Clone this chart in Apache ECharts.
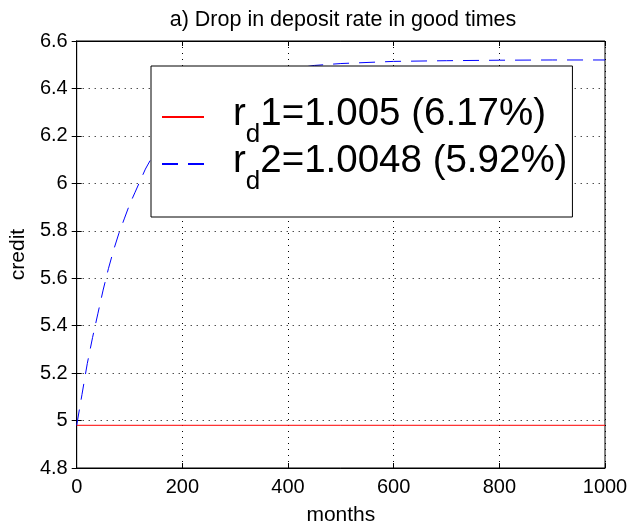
<!DOCTYPE html>
<html><head><meta charset="utf-8">
<script src="https://cdn.jsdelivr.net/npm/echarts@6/dist/echarts.min.js"></script>
<style>html,body{margin:0;padding:0;background:#fff}#c{width:632px;height:531px}</style>
</head><body><div id="c"></div>
<script>
const titleText = 'a) Drop in deposit rate in good times';
const xName = 'months';
const yName = 'credit';
const seriesNames = ['rd1=1.005 (6.17%)', 'rd2=1.0048 (5.92%)'];
const legendMain = ['1=1.005 (6.17%)', '2=1.0048 (5.92%)'];

const months1 = [0, 1000];
const credit1 = [4.98, 4.98];

const months2 = [0, 10, 20, 30, 40, 50, 60, 70, 80, 90, 100, 110, 120, 130, 140, 150, 175, 200, 250, 300, 350, 400, 450, 500, 600, 700, 800, 900, 1000];
const credit2 = [4.98, 5.11, 5.24, 5.35, 5.45, 5.55, 5.64, 5.72, 5.79, 5.85, 5.91, 5.96, 6.01, 6.06, 6.10, 6.14, 6.21, 6.28, 6.37, 6.43, 6.46, 6.48, 6.497, 6.505, 6.514, 6.517, 6.519, 6.52, 6.52];

const xMin = 0, xMax = 1000, xStep = 200;
const yMin = 4.8, yMax = 6.6, yStep = 0.2;

const FF = '"Liberation Sans", Arial, Helvetica, sans-serif';
const chart = echarts.init(document.getElementById('c'), null, {renderer: 'canvas'});

function mainAxis(extra) {
  return Object.assign({
    type: 'value',
    axisLine: {show: true, lineStyle: {color: '#000', width: 1}},
    axisTick: {show: true, inside: true, length: 5, lineStyle: {color: '#000'}},
    splitLine: {show: true, lineStyle: {color: '#000', width: 1, type: [1, 5]}},
    nameTextStyle: {color: '#000', fontSize: 21, fontFamily: FF}
  }, extra);
}
function mirrorAxis(extra) {
  return Object.assign({
    type: 'value',
    axisLine: {show: true, lineStyle: {color: '#000', width: 1}},
    axisTick: {show: true, inside: true, length: 5, lineStyle: {color: '#000'}},
    axisLabel: {show: false},
    splitLine: {show: false}
  }, extra);
}
const plainNum = function (v) { return String(+v.toFixed(4)); };

chart.setOption({
  animation: false,
  backgroundColor: '#fff',
  title: {
    text: titleText, left: 338, top: 4, textAlign: 'center',
    textStyle: {fontSize: 21.5, fontWeight: 'normal', color: '#000', fontFamily: FF}
  },
  grid: {left: 70, top: 41, width: 535, height: 428, show: true, borderColor: '#000', borderWidth: 1, backgroundColor: 'transparent'},
  xAxis: [
    mainAxis({min: xMin, max: xMax, interval: xStep, position: 'bottom', name: xName, nameLocation: 'middle', nameGap: 37,
      axisLabel: {show: true, color: '#000', fontSize: 20, fontFamily: FF, margin: 9, formatter: plainNum}}),
    mirrorAxis({min: xMin, max: xMax, interval: xStep, position: 'top'})
  ],
  yAxis: [
    mainAxis({min: yMin, max: yMax, interval: yStep, position: 'left', name: yName, nameLocation: 'middle', nameGap: 42,
      axisLabel: {show: true, color: '#000', fontSize: 20, fontFamily: FF, margin: 9, formatter: plainNum}}),
    mirrorAxis({min: yMin, max: yMax, interval: yStep, position: 'right'})
  ],
  legend: {
    orient: 'vertical', left: 151, top: 66,
    itemWidth: 42, itemHeight: 14, itemGap: -6,
    padding: [29, 5, 22, 10],
    backgroundColor: '#fff', borderColor: '#000', borderWidth: 1, borderRadius: 0,
    selectedMode: false,
    itemStyle: {opacity: 0},
    data: seriesNames,
    formatter: function (name) {
      const i = seriesNames.indexOf(name);
      return '{p|r}{s|d}{m|' + legendMain[i] + '}';
    },
    textStyle: {
      color: '#000', fontFamily: FF,
      rich: {
        p: {fontSize: 38.5, lineHeight: 44, verticalAlign: 'top', fontFamily: FF, color: '#000', padding: [0, 0, 0, 24]},
        m: {fontSize: 38.5, lineHeight: 44, verticalAlign: 'top', fontFamily: FF, color: '#000'},
        s: {fontSize: 26, lineHeight: 4, verticalAlign: 'top', fontFamily: FF, color: '#000', padding: [27, 0, 0, 0]}
      }
    }
  },
  series: [
    {
      type: 'line', name: seriesNames[0], xAxisIndex: 0, yAxisIndex: 0,
      data: months1.map((m, i) => [m, credit1[i]]),
      symbol: 'none', showSymbol: false,
      lineStyle: {color: '#ff0000', width: 1}, itemStyle: {color: '#ff0000'}
    },
    {
      type: 'line', name: seriesNames[1], xAxisIndex: 0, yAxisIndex: 0,
      data: months2.map((m, i) => [m, credit2[i]]),
      symbol: 'none', showSymbol: false, smooth: false,
      lineStyle: {color: '#0000ff', width: 1, type: [16, 10]}, itemStyle: {color: '#0000ff'}
    }
  ]
});
</script></body></html>
